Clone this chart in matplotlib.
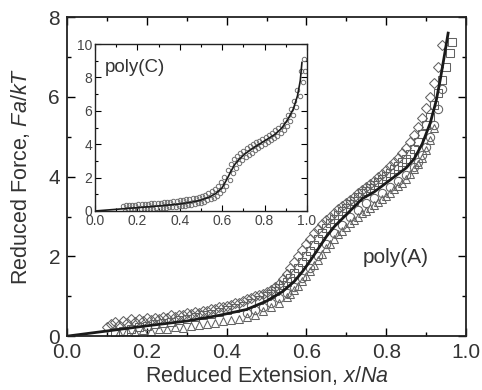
import numpy as np
import matplotlib.pyplot as plt
from matplotlib.ticker import MultipleLocator

plt.rcParams['font.family'] = ['Liberation Sans', 'DejaVu Sans']
plt.rcParams['mathtext.fontset'] = 'custom'
plt.rcParams['mathtext.it'] = 'Liberation Sans:italic'
plt.rcParams['mathtext.rm'] = 'Liberation Sans'

# poly(A): master curve
fitA_x = [0, 0.1, 0.2, 0.3, 0.38, 0.45, 0.5, 0.54, 0.57, 0.59,
          0.61, 0.63, 0.65, 0.67, 0.69, 0.71, 0.74, 0.77, 0.81, 0.85,
          0.87, 0.89, 0.91, 0.925, 0.935, 0.945, 0.955]
fitA_y = [0, 0.13, 0.26, 0.38, 0.52, 0.67, 0.88, 1.12, 1.38, 1.62,
          1.9, 2.2, 2.5, 2.75, 2.95, 3.15, 3.45, 3.62, 3.92, 4.22,
          4.45, 4.82, 5.34, 5.9, 6.42, 7.0, 7.6]

# poly(A): data sets
diaA_x = [0.10, 0.11, 0.12, 0.13, 0.14, 0.15, 0.16, 0.17, 0.18, 0.19,
          0.20, 0.21, 0.22, 0.23, 0.24, 0.25, 0.26, 0.27, 0.28, 0.29,
          0.30, 0.31, 0.32, 0.33, 0.34, 0.35, 0.36, 0.37, 0.38, 0.39,
          0.40, 0.41, 0.42, 0.43, 0.44, 0.45, 0.46, 0.47, 0.48, 0.49,
          0.50, 0.51, 0.52, 0.53, 0.54, 0.55, 0.56, 0.57, 0.58, 0.59,
          0.60, 0.61, 0.62, 0.63, 0.64, 0.65, 0.66, 0.67, 0.68, 0.69,
          0.70, 0.71, 0.72, 0.73, 0.74, 0.75, 0.76, 0.77, 0.78, 0.79,
          0.80, 0.81, 0.82, 0.83, 0.84, 0.85, 0.86, 0.87, 0.88, 0.89,
          0.90, 0.91, 0.92, 0.93, 0.94]
diaA_y = [0.22, 0.30, 0.36, 0.28, 0.38, 0.33, 0.42, 0.36, 0.44, 0.38,
          0.45, 0.40, 0.46, 0.44, 0.48, 0.45, 0.52, 0.47, 0.54, 0.52,
          0.57, 0.55, 0.60, 0.59, 0.64, 0.63, 0.67, 0.68, 0.72, 0.73,
          0.76, 0.78, 0.82, 0.84, 0.88, 0.92, 0.96, 1.00, 1.04, 1.07,
          1.10, 1.16, 1.23, 1.32, 1.43, 1.56, 1.70, 1.85, 2.00, 2.15,
          2.30, 2.44, 2.58, 2.70, 2.81, 2.91, 3.00, 3.09, 3.18, 3.26,
          3.34, 3.42, 3.50, 3.58, 3.66, 3.74, 3.82, 3.90, 3.98, 4.07,
          4.16, 4.26, 4.36, 4.47, 4.59, 4.72, 4.87, 5.04, 5.24, 5.46,
          5.72, 6.00, 6.34, 6.76, 7.30]

sqA_x = [0.12, 0.14, 0.16, 0.18, 0.20, 0.22, 0.24, 0.26, 0.28, 0.30,
         0.32, 0.34, 0.36, 0.38, 0.40, 0.42, 0.44, 0.46, 0.48, 0.50,
         0.51, 0.52, 0.53, 0.54, 0.55, 0.56, 0.57, 0.58, 0.59, 0.60,
         0.61, 0.62, 0.63, 0.64, 0.65, 0.66, 0.67, 0.68, 0.69, 0.70,
         0.71, 0.72, 0.73, 0.74, 0.75, 0.76, 0.77, 0.78, 0.79, 0.80,
         0.81, 0.82, 0.83, 0.84, 0.85, 0.86, 0.87, 0.88, 0.89, 0.90,
         0.91, 0.92, 0.93, 0.94, 0.95, 0.96, 0.965]
sqA_y = [0.10, 0.14, 0.18, 0.22, 0.26, 0.30, 0.32, 0.36, 0.40, 0.44,
         0.47, 0.52, 0.56, 0.60, 0.66, 0.70, 0.76, 0.82, 0.90, 1.00,
         1.06, 1.13, 1.20, 1.28, 1.37, 1.47, 1.58, 1.71, 1.85, 2.00,
         2.14, 2.29, 2.44, 2.58, 2.71, 2.83, 2.94, 3.04, 3.13, 3.22,
         3.31, 3.40, 3.49, 3.58, 3.65, 3.72, 3.79, 3.86, 3.94, 4.02,
         4.10, 4.18, 4.27, 4.36, 4.45, 4.56, 4.70, 4.88, 5.08, 5.30,
         5.50, 5.80, 6.10, 6.42, 6.75, 7.10, 7.38]

triA_x = [0.13, 0.15, 0.17, 0.19, 0.21, 0.23, 0.25, 0.27, 0.29, 0.31,
          0.33, 0.35, 0.37, 0.39, 0.41, 0.43, 0.45, 0.47, 0.49, 0.51,
          0.53, 0.55,
          0.56, 0.57, 0.58, 0.59, 0.60, 0.61, 0.62, 0.63, 0.64, 0.65,
          0.66, 0.67, 0.68, 0.69, 0.70, 0.71, 0.72, 0.73, 0.74, 0.75,
          0.76, 0.77, 0.78, 0.79, 0.80, 0.81, 0.82, 0.83, 0.84, 0.85,
          0.86, 0.87, 0.88, 0.89, 0.90, 0.91, 0.92]
triA_y = [0.08, 0.12, 0.10, 0.15, 0.13, 0.18, 0.17, 0.22, 0.21, 0.26,
          0.27, 0.31, 0.33, 0.37, 0.40, 0.44, 0.48, 0.54, 0.62, 0.72,
          0.84, 0.98,
          1.06, 1.15, 1.26, 1.38, 1.50, 1.64, 1.78, 1.92, 2.06, 2.20,
          2.32, 2.44, 2.55, 2.65, 2.74, 2.83, 2.92, 3.00, 3.08, 3.15,
          3.22, 3.29, 3.36, 3.44, 3.52, 3.60, 3.68, 3.76, 3.85, 3.95,
          4.06, 4.18, 4.32, 4.48, 4.68, 4.92, 5.22]

cirA_x = [0.45, 0.47, 0.49, 0.51, 0.53, 0.55, 0.57, 0.59, 0.61, 0.63,
          0.65, 0.67, 0.69, 0.71, 0.73, 0.75, 0.77, 0.79, 0.81, 0.83,
          0.85, 0.87, 0.88, 0.89, 0.90, 0.91, 0.92, 0.93, 0.94]
cirA_y = [0.58, 0.66, 0.74, 0.84, 0.95, 1.08, 1.24, 1.45, 1.72, 2.02,
          2.32, 2.58, 2.79, 2.98, 3.16, 3.33, 3.46, 3.60, 3.74, 3.90,
          4.05, 4.24, 4.38, 4.55, 4.75, 5.00, 5.30, 5.70, 6.20]

# poly(C): master curve and data
fitC_x = [0, 0.1, 0.2, 0.3, 0.4, 0.46, 0.5, 0.54, 0.57, 0.6,
          0.62, 0.64, 0.66, 0.68, 0.71, 0.75, 0.8, 0.85, 0.88, 0.91,
          0.935, 0.955, 0.968, 0.976]
fitC_y = [0, 0.1, 0.2, 0.3, 0.42, 0.54, 0.65, 0.84, 1.05, 1.4,
          1.85, 2.35, 2.8, 3.1, 3.45, 3.8, 4.2, 4.6, 4.95, 5.5,
          6.1, 6.9, 7.8, 8.9]

cuC_x = [0.13, 0.145, 0.16, 0.175, 0.19, 0.205, 0.22, 0.235, 0.25, 0.265,
         0.28, 0.295, 0.31, 0.325, 0.34, 0.355, 0.37, 0.385, 0.40, 0.415,
         0.43, 0.445, 0.46, 0.475, 0.49, 0.505, 0.52, 0.535, 0.55, 0.565,
         0.58, 0.595, 0.61, 0.625, 0.64, 0.655, 0.67, 0.685, 0.70, 0.715,
         0.73, 0.745, 0.76, 0.775, 0.79, 0.805, 0.82, 0.835, 0.85, 0.865,
         0.88, 0.895, 0.91, 0.925, 0.94, 0.955, 0.97, 0.985]
cuC_y = [0.30, 0.34, 0.33, 0.38, 0.37, 0.41, 0.40, 0.44, 0.44, 0.47,
         0.47, 0.50, 0.50, 0.53, 0.55, 0.56, 0.58, 0.61, 0.63, 0.66,
         0.69, 0.72, 0.76, 0.79, 0.84, 0.90, 0.97, 1.05, 1.17, 1.30,
         1.48, 1.72, 2.05, 2.45, 2.82, 3.10, 3.30, 3.48, 3.62, 3.76,
         3.87, 4.00, 4.11, 4.22, 4.34, 4.46, 4.58, 4.70, 4.84, 5.00,
         5.18, 5.44, 5.76, 6.12, 6.60, 7.25, 8.40, 9.10]
clC_x = [0.14, 0.155, 0.17, 0.185, 0.20, 0.215, 0.23, 0.245, 0.26, 0.275,
         0.29, 0.305, 0.32, 0.335, 0.35, 0.365, 0.38, 0.395, 0.41, 0.425,
         0.44, 0.455, 0.47, 0.485, 0.50, 0.515, 0.53, 0.545, 0.56, 0.575,
         0.59, 0.605, 0.62, 0.635, 0.65, 0.665, 0.68, 0.695, 0.71, 0.725,
         0.74, 0.755, 0.77, 0.785, 0.80, 0.815, 0.83, 0.845, 0.86, 0.875,
         0.89, 0.905, 0.92, 0.935, 0.95, 0.965, 0.98, 0.99]
clC_y = [0.02, 0.04, 0.05, 0.07, 0.07, 0.09, 0.10, 0.12, 0.12, 0.14,
         0.15, 0.17, 0.18, 0.20, 0.22, 0.23, 0.25, 0.27, 0.29, 0.32,
         0.35, 0.38, 0.41, 0.45, 0.50, 0.56, 0.63, 0.71, 0.80, 0.92,
         1.06, 1.25, 1.52, 1.88, 2.25, 2.58, 2.85, 3.05, 3.22, 3.36,
         3.50, 3.63, 3.76, 3.88, 4.00, 4.12, 4.24, 4.36, 4.50, 4.66,
         4.86, 5.10, 5.40, 5.75, 6.25, 6.90, 7.70, 8.40]

txt = '#333333'
mk = '#626262'

fig = plt.figure(figsize=(4.82, 3.9), dpi=100)
ax = fig.add_axes([0.139, 0.138, 0.828, 0.818])

ms = dict(mfc='none', mec=mk, mew=0.75, ls='none')
ax.plot(triA_x, triA_y, marker='^', ms=6, **ms)
ax.plot(cirA_x, cirA_y, marker='o', ms=6, **ms)
ax.plot(sqA_x, sqA_y, marker='s', ms=6, **ms)
ax.plot(diaA_x, diaA_y, marker='D', ms=5.5, **ms)
ax.plot(fitA_x, fitA_y, color='#1a1a1a', lw=2.0)

ax.set_xlim(0, 1.0)
ax.set_ylim(0, 8)
ax.xaxis.set_major_locator(MultipleLocator(0.2))
ax.xaxis.set_minor_locator(MultipleLocator(0.1))
ax.yaxis.set_major_locator(MultipleLocator(2))
ax.yaxis.set_minor_locator(MultipleLocator(1))
ax.xaxis.set_major_formatter(lambda v, p: f'{v:.1f}')
ax.tick_params(which='both', direction='in', top=True, right=True,
               labelsize=15, labelcolor=txt, width=1)
ax.tick_params(which='major', length=6, pad=5)
ax.tick_params(which='minor', length=3)
for s in ax.spines.values():
    s.set_linewidth(1.3)
    s.set_color('#222222')
ax.set_xlabel('Reduced Extension, $x/Na$', fontsize=15.5, color=txt, labelpad=1)
ax.set_ylabel('Reduced Force, $Fa/kT$', fontsize=15.5, color=txt, labelpad=12)
ax.text(0.74, 1.83, 'poly(A)', fontsize=15, color=txt)

# inset
ins = fig.add_axes([0.197, 0.459, 0.44, 0.428])
msc = dict(mfc='none', mec='#6e6e6e', mew=0.7, ls='none', marker='o', ms=3.2)
ins.plot(cuC_x, cuC_y, **msc)
ins.plot(clC_x, clC_y, **msc)
ins.plot(fitC_x, fitC_y, color='#1a1a1a', lw=1.2)
ins.set_xlim(0, 1.0)
ins.set_ylim(0, 10)
ins.xaxis.set_major_locator(MultipleLocator(0.2))
ins.xaxis.set_minor_locator(MultipleLocator(0.1))
ins.yaxis.set_major_locator(MultipleLocator(2))
ins.yaxis.set_minor_locator(MultipleLocator(1))
ins.xaxis.set_major_formatter(lambda v, p: f'{v:.1f}')
ins.tick_params(which='both', direction='in', top=True, right=True,
                labelsize=10, labelcolor='#444444', width=0.8, pad=2)
ins.tick_params(which='major', length=4)
ins.tick_params(which='minor', length=2)
for s in ins.spines.values():
    s.set_linewidth(1.0)
    s.set_color('#222222')
ins.text(0.045, 8.35, 'poly(C)', fontsize=13.5, color=txt)

fig.savefig('out.png', dpi=100)
